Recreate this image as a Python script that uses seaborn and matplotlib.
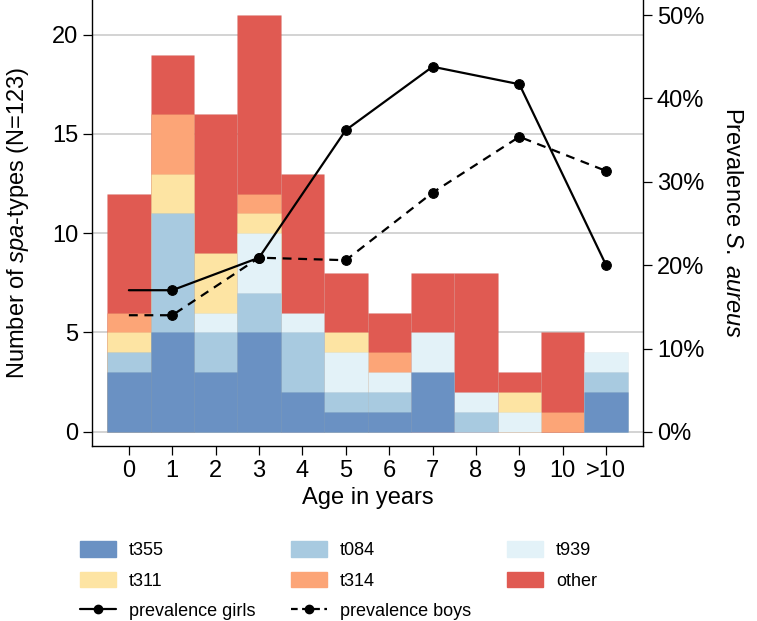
import matplotlib.pyplot as plt
import numpy as np
import seaborn as sns
from matplotlib.lines import Line2D
from matplotlib.patches import Patch
from matplotlib.ticker import FuncFormatter


AGES = ["0", "1", "2", "3", "4", "5", "6", "7", "8", "9", "10", ">10"]

# spa-type counts per age, stacked bottom to top
SPA_TYPES = ["t355", "t084", "t939", "t311", "t314", "other"]
T355 = [3, 5, 3, 5, 2, 1, 1, 3, 0, 0, 0, 2]
T084 = [1, 6, 2, 2, 3, 1, 1, 0, 1, 0, 0, 1]
T939 = [0, 0, 1, 3, 1, 2, 1, 2, 1, 1, 0, 1]
T311 = [1, 2, 3, 1, 0, 1, 0, 0, 0, 1, 0, 0]
T314 = [1, 3, 0, 1, 0, 0, 1, 0, 0, 0, 1, 0]
OTHER = [6, 3, 7, 9, 7, 3, 2, 3, 6, 1, 4, 0]
COLORS = ["#6a91c3", "#a8cae0", "#e3f2f8", "#fde4a3", "#fca577", "#e05a52"]

# prevalence of S. aureus (%)
PREV_AGES = ["0", "1", "3", "5", "7", "9", ">10"]
PREV_GIRLS = [17.0, 17.0, 20.9, 36.2, 43.8, 41.7, 20.0]
PREV_BOYS = [14.0, 14.0, 20.9, 20.6, 28.7, 35.4, 31.3]


def build_chart():
    sns.set_style("ticks")
    plt.rcParams["font.family"] = ["Liberation Sans", "DejaVu Sans"]
    plt.rcParams["mathtext.fontset"] = "custom"
    plt.rcParams["mathtext.rm"] = "Liberation Sans"
    plt.rcParams["mathtext.it"] = "Liberation Sans:italic"
    plt.rcParams["text.color"] = "black"
    plt.rcParams["axes.labelcolor"] = "black"
    plt.rcParams["xtick.color"] = "black"
    plt.rcParams["ytick.color"] = "black"
    plt.rcParams["axes.edgecolor"] = "black"

    fig = plt.figure(figsize=(7.57, 6.21), dpi=100)
    ax = fig.add_axes([92 / 757, 1 - 446 / 621, (643 - 92) / 757, 446 / 621])

    layers = np.array([T355, T084, T939, T311, T314, OTHER], dtype=float)
    cumulative = np.cumsum(layers, axis=0)
    # draw tallest cumulative first, then overlay the lower ones;
    # empty segments are skipped so no stray edges show up
    for i in reversed(range(len(layers))):
        heights = np.where(layers[i] > 0, cumulative[i], 0.0)
        sns.barplot(
            x=AGES,
            y=heights,
            order=AGES,
            color=COLORS[i],
            saturation=1,
            width=1,
            errorbar=None,
            edgecolor=(0, 0, 0, 0.04),
            linewidth=0.5,
            ax=ax,
        )
    for bar in ax.patches:
        if bar.get_height() == 0:
            bar.set_visible(False)

    ax.set_xlim(-0.85, 11.85)
    ax.set_ylim(-0.72, 21.75)
    ax.set_yticks([0, 5, 10, 15, 20])
    ax.yaxis.grid(True, color="#cccccc", linewidth=1.2)
    ax.set_axisbelow(True)
    ax.set_xticks(range(len(AGES)))
    ax.set_xticklabels(AGES)
    ax.set_xlabel("Age in years", fontsize=17, labelpad=4)
    ax.set_ylabel(r"Number of $\it{spa}$-types (N=123)", fontsize=17, labelpad=15)
    ax.tick_params(axis="both", labelsize=17, length=6.5, width=0.9, colors="black")

    for side in ["top", "right"]:
        ax.spines[side].set_visible(False)
    for side in ["left", "bottom"]:
        ax.spines[side].set_linewidth(1.0)

    ax2 = ax.twinx()
    pos = [AGES.index(a) for a in PREV_AGES]
    sns.lineplot(
        x=pos, y=PREV_GIRLS, ax=ax2, color="black", linewidth=1.6,
        marker="o", markersize=7, markeredgecolor="black",
        markevery=list(range(1, len(pos))), sort=False,
    )
    boys_line = sns.lineplot(
        x=pos, y=PREV_BOYS, ax=ax2, color="black", linewidth=1.6,
        marker="o", markersize=7, markeredgecolor="black",
        markevery=list(range(1, len(pos))), sort=False,
    ).lines[-1]
    boys_line.set_dashes((4, 3))

    ax2.set_ylim(-1.68, 51.8)
    ax2.set_yticks([0, 10, 20, 30, 40, 50])
    ax2.yaxis.set_major_formatter(FuncFormatter(lambda v, _: f"{v:.0f}%"))
    ax2.set_ylabel(r"Prevalence $\it{S.\ aureus}$", fontsize=17, rotation=270, labelpad=28)
    ax2.tick_params(axis="y", labelsize=17, length=6.5, width=0.9, colors="black")
    for side in ["top", "left", "bottom"]:
        ax2.spines[side].set_visible(False)
    ax2.spines["right"].set_linewidth(1.0)
    ax2.set_xlim(-0.85, 11.85)

    patches = {name: Patch(facecolor=c, edgecolor=c) for name, c in zip(SPA_TYPES, COLORS)}
    girls_h = Line2D([], [], color="black", lw=1.6, marker="o", markersize=6)
    boys_h = Line2D([], [], color="black", lw=1.6, marker="o", markersize=6, dashes=(3, 2))
    handles = [
        patches["t355"], patches["t311"], girls_h,
        patches["t084"], patches["t314"], boys_h,
        patches["t939"], patches["other"],
    ]
    labels = ["t355", "t311", "prevalence girls", "t084", "t314", "prevalence boys", "t939", "other"]
    fig.legend(
        handles, labels, ncol=3, loc="upper left",
        bbox_to_anchor=(80 / 757, 1 - 541 / 621), frameon=False,
        fontsize=13, handlelength=2.0, handleheight=0.95, handletextpad=0.7,
        columnspacing=2.0, labelspacing=0.7, borderpad=0, borderaxespad=0,
    )

    fig.savefig("out.png", dpi=100)
    plt.close(fig)


if __name__ == "__main__":
    build_chart()
